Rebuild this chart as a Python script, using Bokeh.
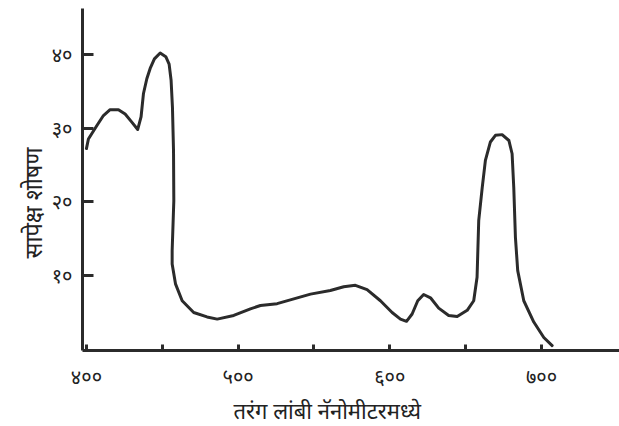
from bokeh.plotting import figure
from bokeh.models import FixedTicker, Title
from bokeh.embed import file_html
from bokeh.resources import INLINE

# data (wavelength in nm, relative absorption)
wavelength = [400, 401.3, 406.8, 411.2, 415.6, 421.1, 425.5, 429.9, 433.8, 436, 437.6,
              439.8, 442, 444.8, 448.6, 452.3, 454.5, 455.8, 456.7, 457.4, 457.6,
              456.5, 456.5, 458.7, 463.1, 470.7, 479.5, 486.2, 497.1, 508.1, 514.7,
              525.7, 547.7, 560.8, 569.6, 577.3, 585, 593.8, 601.5, 607, 611, 614.7,
              618.4, 622.3, 626.8, 632.2, 638.8, 644.4, 651, 655.3, 657.5, 658.6,
              660.9, 663, 666.3, 669.6, 674, 678.5, 680.6, 681.7, 682.8, 684.3, 688.3,
              694.9, 701.5, 707]
absorption = [27.2, 28.5, 30.3, 31.7, 32.5, 32.5, 31.9, 30.8, 29.8, 31.5, 34.7,
              36.7, 38.1, 39.4, 40.2, 39.7, 38.7, 36.5, 32.8, 26.9, 20.1,
              13.3, 11.5, 8.8, 6.5, 4.9, 4.3, 4.0, 4.5, 5.4, 5.85,
              6.1, 7.4, 7.9, 8.4, 8.6, 8.0, 6.5, 4.9, 4.0, 3.7, 4.7,
              6.5, 7.35, 6.9, 5.5, 4.5, 4.35, 5.2, 6.5, 9.7, 17.4,
              21.9, 25.6, 28.1, 29.0, 29.1, 28.3, 26.5, 21.9, 15.1, 10.6, 6.5,
              3.6, 1.5, 0.4]

x_ticks = [400, 450, 500, 550, 600, 650, 700]
x_tick_labels = ["४००", "", "५००", "", "६००", "", "७००"]
y_ticks = [10, 20, 30, 40]
y_tick_labels = ["१०", "२०", "३०", "४०"]
x_title = "तरंग लांबी नॅनोमीटरमध्ये"
y_title = "सापेक्ष शोषण"

FONT = "Noto Sans"
INK = "#2b2b2b"
TXT = "#222222"

p = figure(width=619, height=426, output_backend="svg", toolbar_location=None,
           x_range=(397.4, 751.4), y_range=(-0.27, 46.26),
           min_border_left=82, min_border_right=0, min_border_top=8,
           min_border_bottom=76)
p.background_fill_color = "white"
p.border_fill_color = "white"
p.outline_line_color = None
p.grid.grid_line_color = None

p.line(wavelength, absorption, line_color=INK, line_width=3, line_join="round",
       line_cap="round")

xa = p.xaxis[0]
xa.ticker = FixedTicker(ticks=x_ticks)
xa.major_label_overrides = {t: l for t, l in zip(x_ticks, x_tick_labels)}
xa.minor_tick_line_color = None
xa.major_tick_in = 6
xa.major_tick_out = 0
xa.major_tick_line_width = 3
xa.major_tick_line_color = INK
xa.axis_line_width = 3
xa.axis_line_color = INK
xa.major_label_standoff = 12
xa.major_label_text_font = FONT
xa.major_label_text_font_size = "20px"
xa.major_label_text_color = TXT

ya = p.yaxis[0]
ya.ticker = FixedTicker(ticks=y_ticks)
ya.major_label_overrides = {t: l for t, l in zip(y_ticks, y_tick_labels)}
ya.minor_tick_line_color = None
ya.major_tick_in = 11
ya.major_tick_out = 0
ya.major_tick_line_width = 3
ya.major_tick_line_color = INK
ya.axis_line_width = 3
ya.axis_line_color = INK
ya.major_label_standoff = 10
ya.major_label_text_font = FONT
ya.major_label_text_font_size = "20px"
ya.major_label_text_color = TXT

p.add_layout(Title(text=x_title, align="left", offset=151, text_font=FONT,
                   text_font_size="22px", text_font_style="normal",
                   text_color=TXT, standoff=0), "below")
p.add_layout(Title(text=y_title, align="left", offset=92, text_font=FONT,
                   text_font_size="23.5px", text_font_style="normal",
                   text_color=TXT, standoff=0), "left")

open("out.html", "w").write(file_html(p, INLINE))
